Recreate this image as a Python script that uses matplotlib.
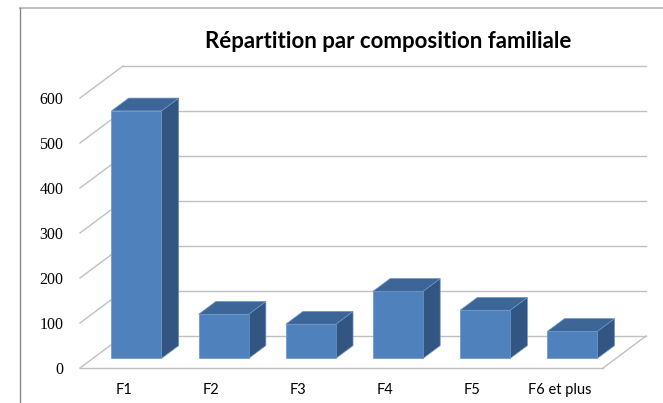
import matplotlib
matplotlib.use("Agg")
import matplotlib.pyplot as plt
from matplotlib.patches import Polygon
from matplotlib.lines import Line2D

# data
categories = ["F1", "F2", "F3", "F4", "F5", "F6 et plus"]
values = [550, 98, 76, 149, 107, 60]
yticks = [0, 100, 200, 300, 400, 500, 600]
title = "Répartition par composition familiale"

W, H = 663, 403
fig = plt.figure(figsize=(W / 100, H / 100), dpi=100)
# front plane of the pseudo-3d box
ax = fig.add_axes([80 / W, 35 / H, 523 / W, 270 / H])
ax.set_xlim(-0.5, len(categories) - 0.5)
ax.set_ylim(0, 600)
ax.patch.set_visible(False)
for s in ax.spines.values():
    s.set_visible(False)

# depth of the box expressed in data units (43 px right, 32 px up)
px_x = 523 / len(categories)
px_y = 270 / 600
DX, DY = 43 / px_x, 32 / px_y

def P(x, y, d):
    return (x + d * DX, y + d * DY)

grid = "#c0c0c0"
xl, xr = -0.5, len(categories) - 0.5

# walls: left diagonals + back horizontals
for v in yticks:
    ax.add_line(Line2D(*zip(P(xl, v, 0), P(xl, v, 1)), color=grid, lw=1, clip_on=False))
    ax.add_line(Line2D(*zip(P(xl, v, 1), P(xr, v, 1)), color=grid, lw=1, clip_on=False))
# floor front and right edges
ax.add_line(Line2D(*zip(P(xl, 0, 0), P(xr, 0, 0)), color=grid, lw=1, clip_on=False))
ax.add_line(Line2D(*zip(P(xr, 0, 0), P(xr, 0, 1)), color=grid, lw=1, clip_on=False))

# bars
f0, f1 = 0.3, 0.7
hw = 25 / px_x
c_front, c_side, c_top = "#4f81bd", "#335582", "#3c6598"
for i, v in enumerate(values):
    a, b = i - hw, i + hw
    front = [P(a, 0, f0), P(b, 0, f0), P(b, v, f0), P(a, v, f0)]
    side = [P(b, 0, f0), P(b, 0, f1), P(b, v, f1), P(b, v, f0)]
    top = [P(a, v, f0), P(b, v, f0), P(b, v, f1), P(a, v, f1)]
    for pts, c in ((side, c_side), (top, c_top), (front, c_front)):
        ax.add_patch(Polygon(pts, closed=True, facecolor=c, edgecolor="#6a94c8",
                             lw=0.5, clip_on=False, zorder=3))

ax.set_xticks(range(len(categories)))
ax.set_xticklabels(categories, fontsize=10.5, fontfamily="Lato")
ax.set_yticks(yticks)
ax.set_yticklabels([str(t) for t in yticks], fontsize=11.5, fontfamily="Liberation Serif")
ax.tick_params(axis="x", length=0, pad=11)
ax.tick_params(axis="y", length=0, pad=12)

fig.text(388 / W, 1 - 42 / H, title, ha="center", va="center",
         fontsize=16, fontweight="bold", fontfamily="Lato")

# chart frame (cropped: only top and left edges visible)
fig.add_artist(Line2D([20 / W, 1], [1 - 8 / H, 1 - 8 / H], color="#bfbfbf", lw=1.5))
fig.add_artist(Line2D([20 / W, 20 / W], [0, 1 - 8 / H], color="#868686", lw=1))

fig.savefig("out.png", dpi=100)
